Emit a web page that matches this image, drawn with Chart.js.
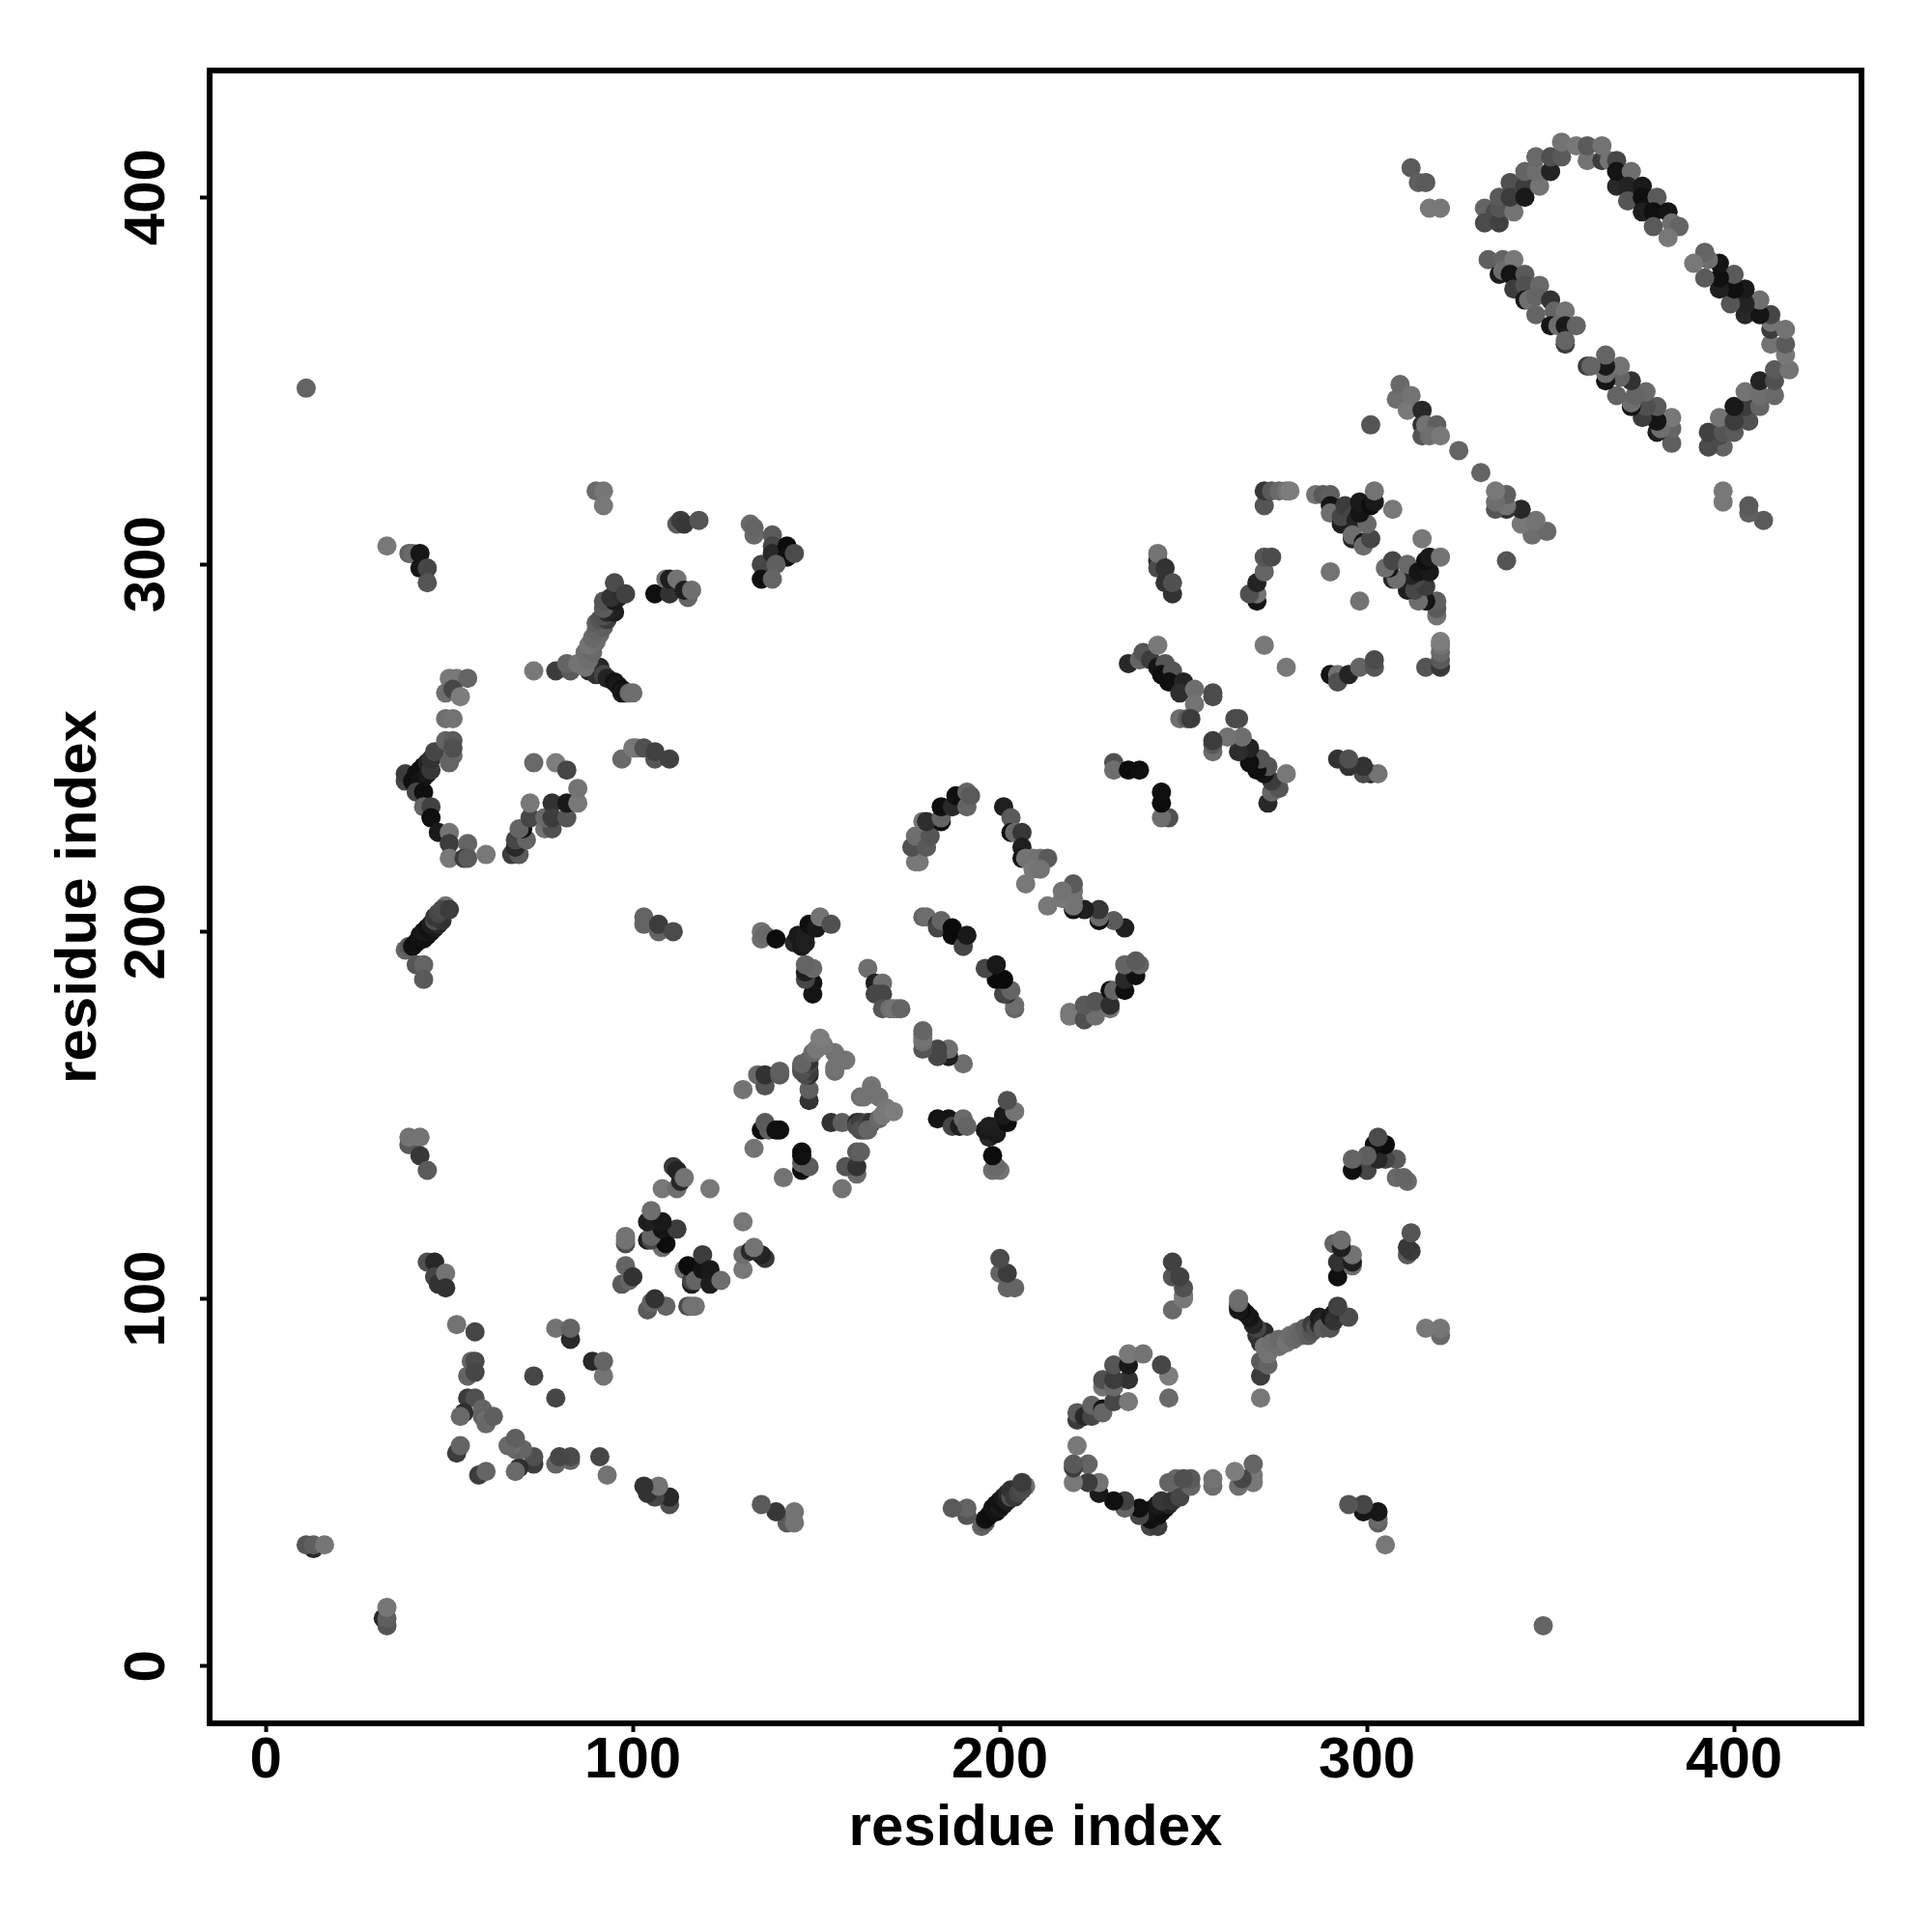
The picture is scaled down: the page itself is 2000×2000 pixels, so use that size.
<!DOCTYPE html>
<html>
<head>
<meta charset="utf-8">
<style>
  html, body { margin: 0; padding: 0; background: #fff; }
  canvas { display: block; }
</style>
<script src="https://cdn.jsdelivr.net/npm/chart.js@4/dist/chart.umd.min.js"></script>
</head>
<body>
<canvas id="contactMap" width="2000" height="2000"></canvas>
<script>
// Contacts, one triangle only: [residue i, residue j, grey level]
var tickValues = [0, 100, 200, 300, 400];
var axisLabel = "residue index";

var termini = [[11,348,100],[13,32,40],[11,33,85],[13,33,95],[16,33,118]];
var cornerA = [[33,305,120],[39,303,95],[40,303,105],[42,303,22],[42,299,22],[44,299,70],[44,295,85]];
var cornerB = [[90,320,105],[92,320,118],[92,316,120]];
var cornerC = [[112,311,90],[113,312,60],[114,311,55],[118,312,85]];
var cornerD = [[132,311,105],[133,308,105],[133,310,100],[138,308,90],[135,300,70],[135,296,15],[138,305,70],[138,303,40],
  [142,305,12],[142,302,15],[139,300,95],[138,296,100],[144,303,75]];
var yLower = [[88,271,40],[90,270,50],[91,272,40],[92,270,70],[93,269,35],[95,268,20],[96,267,25],[97,266,15],
  [97,265,25],[98,265,20],[99,265,105],[100,265,110]];
var yStem = [[73,271,120],[79,271,60],[83,271,90],[82,273,100],[85,273,115],[87,272,115],[88,274,110],[87,276,110],
  [89,276,105],[88,278,115],[90,279,110],[89,280,105],[91,281,105],[90,282,100],[92,283,95]];
var yUpper = [[90,284,95],[91,285,85],[93,285,60],[92,286,80],[93,287,40],[95,287,30],[94,288,35],[92,288,90],[92,290,85],
  [95,290,25],[96,291,30],[94,291,50],[97,292,45],[95,295,75],[98,292,65]];
var yRight = [[106,292,15],[109,296,110],[110,292,50],[110,296,30],[112,296,115],[115,291,100],[114,293,30],[116,293,110]];
var lobeArm = [[38,241,70],[38,243,60],[40,241,15],[41,240,15],[41,243,15],[42,241,20],[42,244,15],[43,242,20],
  [43,245,15],[44,243,25],[44,246,35],[45,244,55],[45,247,50],[46,249,70]];
var lobeTop = [[50,269,120],[52,269,120],[55,269,100],[49,265,110],[51,266,70],[53,264,125],[49,258,110],[51,258,115],
  [49,252,100],[51,248,105],[50,246,100],[51,252,90],[51,250,80]];
var lobeDown = [[41,238,70],[43,238,15],[43,234,100],[45,234,65],[45,231,15],[47,227,25],[50,227,115],[50,224,60],
  [55,224,100],[50,220,120],[54,220,60],[55,220,90],[60,221,120]];
var lobeRight = [[67,221,60],[69,221,90],[68,223,40],[68,225,70],[71,225,100],[70,228,20],[69,228,100],[72,231,70],
  [72,235,120],[76,228,115],[78,228,80],[76,231,105],[78,235,50],[78,231,60],[82,231,85],[82,235,25],[85,235,120],
  [85,239,115],[73,246,105],[79,246,125],[82,244,70]];
var lobeFar = [[97,247,105],[100,250,120],[101,250,120],[103,250,80],[106,247,85],[106,249,65],[110,247,65]];
var bandLow = [[38,195,100],[39,196,90],[40,196,18],[41,197,15],[42,198,15],[43,198,18],[42,199,20],[44,199,15],
  [43,200,25],[45,200,20],[44,201,18],[46,201,25],[45,202,30],[47,202,40],[46,203,80],[48,203,50],[46,204,55],
  [47,205,70],[49,207,115],[48,206,75],[50,206,60],[41,191,85],[43,191,100],[43,187,90]];
var nearBand = [[103,204,100],[103,202,100],[107,200,100],[107,202,60],[111,200,75]];
var forkA = [[135,200,115],[135,198,110],[136,199,105],[139,198,12],[144,197,40],[145,199,25],[146,196,25],[147,197,30],
  [147,199,30],[148,202,15],[150,201,25],[151,204,115],[154,202,80],[149,183,20],[149,186,20],[147,187,70],[147,189,30],
  [149,190,105],[147,191,100]];
var stripM = [[164,190,110],[166,186,30],[168,186,110],[166,183,70],[168,183,70],[168,179,85],[170,179,110],[171,179,115],
  [172,179,115],[173,179,100]];
var arcN = [[177,219,120],[178,219,120],[176,223,80],[177,226,110],[180,223,90],[181,226,85],[179,230,115],[184,230,15],
  [180,230,45],[184,231,100],[184,234,15],[187,234,40],[188,237,15],[191,234,100],[191,238,100],[192,237,90]];
var arcO = [[201,234,30],[203,231,90],[203,227,15],[204,227,105],[206,227,55],[206,223,30],[206,220,20],[207,220,115],
  [209,220,115],[211,220,115],[213,220,90],[209,217,120],[211,217,115],[207,213,120]];
var stripP = [[179,204,100],[180,204,110],[183,202,50],[183,201,70],[184,203,100],[187,201,10],[187,199,10],[190,196,70],[191,199,25]];
var stripQ = [[231,246,80],[231,244,110],[235,244,12],[238,244,15]];
var stripR = [[235,273,40],[238,274,100],[239,276,85],[241,274,60],[243,272,20],[245,273,85],[243,278,120],[244,270,15],
  [247,271,85],[246,268,15],[250,268,35],[249,265,45],[253,266,110],[253,262,115],[258,265,75],[258,264,75],[249,258,110],
  [251,258,90],[252,258,60]];
var stripS = [[243,301,40],[243,299,75],[243,303,115],[245,299,50],[245,295,50],[247,292,50],[247,295,80]];
var stripT = [[270,290,20],[270,292,115],[268,292,80],[270,295,35],[272,298,100],[272,302,85],[274,302,75]];
var stripU = [[272,316,85],[272,320,55],[274,320,90],[276,320,105],[278,320,115],[279,320,125]];
var blobV = [[286,319,115],[288,319,90],[290,319,95],[290,316,20],[290,314,110],[293,311,30],[293,313,70],[294,316,60],
  [296,313,70],[297,312,35],[296,307,40],[296,308,110],[299,306,20],[299,305,110],[301,307,70],[300,311,105],[298,314,20],
  [298,317,25],[301,316,15],[302,317,25],[302,320,115],[307,315,120]];
var lonePoints = [[272,278,120],[290,298,115],[325,331,100]];
var stripX = [[301,338,85],[308,345,110],[309,349,105],[311,342,120],[312,346,115],[315,342,40],[315,338,50],[315,335,85],
  [316,338,115],[319,338,95],[317,335,110],[320,335,120]];
var stripY = [[312,408,90],[314,404,95],[316,404,90],[317,397,120],[320,397,120]];
var ringArc = [[332,397,100],[332,393,75],[335,396,75],[336,393,65],[336,397,85],[336,400,90],[339,404,80],[340,396,115],
  [339,400,60],[343,403,60],[343,400,25],[343,407,100],[347,403,115],[346,407,110],[346,411,105],[350,407,35],[350,411,80],
  [353,411,90],[353,415,115],[357,414,120],[360,410,115],[360,414,90],[364,410,60],[366,410,115],[364,414,115],[368,410,70],
  [368,403,40],[368,407,20],[372,407,110],[371,403,35],[375,403,25],[371,399,85],[375,400,15],[375,396,30],[379,400,90],
  [378,396,15],[382,396,20],[378,392,90],[383,393,110],[385,392,100],[382,389,120]];
var ringStrand = [[333,383,95],[336,379,30],[337,383,100],[337,380,110],[340,383,120],[339,379,20],[343,379,90],[340,375,60],
  [343,376,80],[347,376,105],[343,372,20],[344,372,110],[346,373,100],[350,372,50],[346,368,100],[351,369,100],[354,369,115],
  [350,365,20],[352,365,110],[354,365,25],[357,365,100],[354,360,60],[354,361,100]];
var blobAA = [[130,157,115],[134,161,105],[136,158,85],[136,161,50],[140,161,90],[140,162,95],[148,154,50],[148,157,95],
  [148,161,40],[147,161,75],[148,162,60],[146,162,80],[146,163,80],[148,164,70],[148,165,50],[146,164,100],[149,167,105],
  [155,162,110],[155,163,115],[155,167,115],[158,165,120],[157,165,115],[150,168,120],[152,169,120],[151,171,125]];
var blobAB = [[133,141,115],[135,146,12],[137,146,95],[136,148,90],[139,146,15],[140,146,15]];
var blobAE = [[108,130,120],[112,130,110],[111,136,55],[112,135,35],[113,132,40],[114,133,115],[121,130,120]];
var blobAF = [[108,114,110],[104,116,30],[105,116,70],[109,115,12],[105,117,100],[108,119,20],[112,119,60],[104,121,30],
  [108,121,25],[105,124,110]];
var blobAG = [[98,115,75],[98,116,115],[98,117,115],[98,109,100],[97,104,90],[99,105,100],[100,106,50]];
var lowLeftA = [[44,110,80],[46,110,40],[46,106,70],[47,104,50],[49,107,115],[49,103,50]];
var lowLeftB = [[39,142,90],[39,144,115],[42,144,115],[42,139,55],[44,135,90]];
var lowLeftC = [[52,93,115],[57,91,70],[79,92,115],[83,89,40],[83,92,100],[55,79,100],[56,83,100],[57,83,75],[57,80,70],[73,79,70]];
var lowLeftD = [[55,73,60],[57,73,80],[54,69,45],[53,68,105],[59,70,100],[59,68,100],[60,67,110],[60,66,105],[62,68,95],[52,58,60],[53,60,100]];

var contactLists = [termini, cornerA, cornerB, cornerC, cornerD, yLower, yStem, yUpper, yRight, lobeArm, lobeTop, lobeDown,
  lobeRight, lobeFar, bandLow, nearBand, forkA, stripM, arcN, arcO, stripP, stripQ, stripR, stripS, stripT, stripU, blobV,
  lonePoints, stripX, stripY, ringArc, ringStrand, blobAA, blobAB, blobAE, blobAF, blobAG, lowLeftA, lowLeftB, lowLeftC, lowLeftD];

var points = [];
var pointColors = [];
contactLists.forEach(function(list) {
    list.forEach(function(c) {
        var grey = "rgb(" + c[2] + "," + c[2] + "," + c[2] + ")";
        // the map is symmetric, so every contact shows up twice
        points.push({x: c[0], y: c[1]});
        pointColors.push(grey);
        points.push({x: c[1], y: c[0]});
        pointColors.push(grey);
    });
});

var labelFont = {family: "'Liberation Sans', Arial, sans-serif", size: 60, weight: "bold", lineHeight: 1.2};

// Frame on all four sides and the rotated y tick labels.
var framePlugin = {
    id: "frame",
    afterDraw: function(chart) {
        var ctx = chart.ctx;
        var area = chart.chartArea;
        var yScale = chart.scales.y;
        ctx.save();
        ctx.strokeStyle = "#000";
        ctx.lineWidth = 6;
        ctx.lineJoin = "miter";
        ctx.strokeRect(area.left, area.top, area.right - area.left, area.bottom - area.top);
        ctx.fillStyle = "#000";
        ctx.font = "bold 60px 'Liberation Sans', Arial, sans-serif";
        ctx.textAlign = "center";
        ctx.textBaseline = "alphabetic";
        tickValues.forEach(function(v) {
            ctx.save();
            ctx.translate(170, yScale.getPixelForValue(v));
            ctx.rotate(-Math.PI / 2);
            ctx.fillText(String(v), 0, 0);
            ctx.restore();
        });
        ctx.restore();
    }
};

function setTicks(scale) {
    scale.ticks = tickValues.map(function(v) { return {value: v}; });
}

new Chart(document.getElementById("contactMap"), {
    type: "scatter",
    data: {
        datasets: [{
            data: points,
            pointRadius: 10,
            pointHoverRadius: 10,
            pointBorderWidth: 0,
            pointBackgroundColor: pointColors,
            showLine: false
        }]
    },
    options: {
        responsive: false,
        animation: false,
        layout: {padding: {top: 73, right: 73, left: 0, bottom: 0}},
        plugins: {legend: {display: false}, tooltip: {enabled: false}},
        scales: {
            x: {
                type: "linear",
                min: -15.3,
                max: 434.7,
                afterBuildTicks: setTicks,
                afterFit: function(scale) { scale.height = 216; },
                grid: {drawOnChartArea: false, drawTicks: true, tickLength: 9, tickWidth: 4, tickColor: "#000"},
                border: {display: false},
                ticks: {color: "#000", font: labelFont, padding: -6, maxRotation: 0, autoSkip: false},
                title: {display: true, text: axisLabel, color: "#000", font: labelFont, padding: {top: 0, bottom: 71}}
            },
            y: {
                type: "linear",
                min: -15.6,
                max: 434.5,
                afterBuildTicks: setTicks,
                afterFit: function(scale) { scale.width = 217; },
                grid: {drawOnChartArea: false, drawTicks: true, tickLength: 10, tickWidth: 4, tickColor: "#000"},
                border: {display: false},
                ticks: {display: false},
                title: {display: true, text: axisLabel, color: "#000", font: labelFont, padding: {top: 46, bottom: 0}}
            }
        }
    },
    plugins: [framePlugin]
});
</script>
</body>
</html>
